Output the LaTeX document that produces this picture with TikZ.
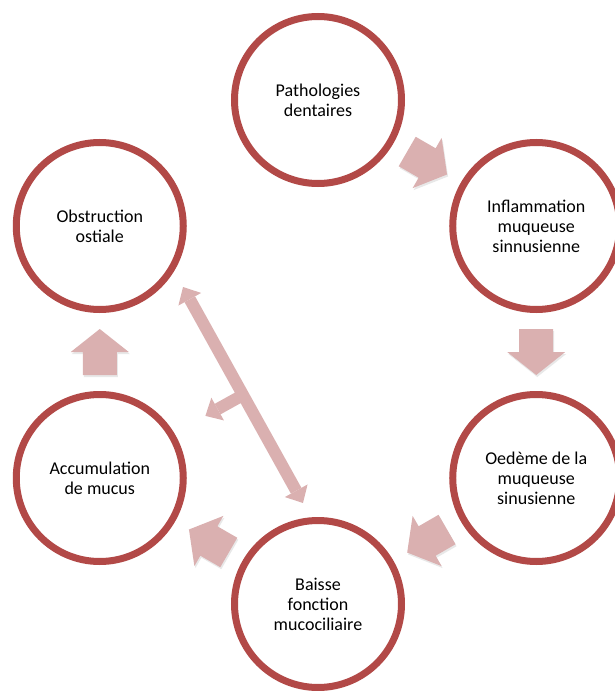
\documentclass[tikz,border=0pt]{standalone}
\usepackage{fontspec}
\setmainfont{Carlito}
\usetikzlibrary{calc,arrows.meta,shadows}

\definecolor{ringred}{RGB}{178,73,71}
\definecolor{arrowpink}{RGB}{218,176,176}

\tikzset{
	bubble/.style={circle, draw=ringred, line width=7pt, fill=white, minimum size=167pt, inner sep=0pt,
		align=center, font=\fontsize{18}{20}\selectfont,
		drop shadow={opacity=0.18, shadow xshift=1pt, shadow yshift=-2.5pt}},
	pics/blockarrow/.style={code={
		\fill[arrowpink, drop shadow={opacity=0.18, shadow xshift=1pt, shadow yshift=-2pt}]
			(-23pt,-17pt) -- (0pt,-17pt) -- (0pt,-29pt) -- (23pt,0pt) -- (0pt,29pt) -- (0pt,17pt) -- (-23pt,17pt) -- cycle;
	}},
	link/.style={draw=arrowpink, line width=12pt},
	linktip/.style={Triangle[length=14pt, width=26pt, line width=0pt]}
}

\begin{document}
\begin{tikzpicture}
			\useasboundingbox (-318pt,-339pt) rectangle (297pt,352pt);
			\clip (-318pt,-339pt) rectangle (297pt,352pt);
			\node [bubble] (dent) at (90:252pt) {Pathologies\\dentaires};
			\node [bubble] (infl) at (30:252pt) {Inflammation\\muqueuse\\sinnusienne};
			\node [bubble] (oed) at (-30:252pt) {Oedème de la\\muqueuse\\sinusienne};
			\node [bubble] (baisse) at (-90:252pt) {Baisse\\fonction\\mucociliaire};
			\node [bubble] (accu) at (-150:252pt) {Accumulation\\de mucus};
			\node [bubble] (obst) at (150:252pt) {Obstruction\\ostiale};
			\pic [rotate=-30] at ($(dent)!0.5!(infl)$) {blockarrow};
			\pic [rotate=-90] at ($(infl)!0.5!(oed)$) {blockarrow};
			\pic [rotate=-150] at ($(oed)!0.5!(baisse)$) {blockarrow};
			\pic [rotate=150] at ($(baisse)!0.5!(accu)$) {blockarrow};
			\pic [rotate=90] at ($(accu)!0.5!(obst)$) {blockarrow};
			\coordinate (dtop) at (-135pt,65pt);
			\coordinate (dbot) at (-15pt,-151pt);
			\coordinate (dmid) at ($(dtop)!0.5!(dbot)$);
			\coordinate (dside) at ($(dmid)!43pt!90:(dtop)$);
			\draw [link, {Triangle[length=14pt, width=26pt, line width=0pt]}-{Triangle[length=14pt, width=26pt, line width=0pt]}] (dtop) -- (dbot);
			\draw [link, -{Triangle[length=14pt, width=26pt, line width=0pt]}] (dmid) -- (dside);
		\end{tikzpicture}
\end{document}
